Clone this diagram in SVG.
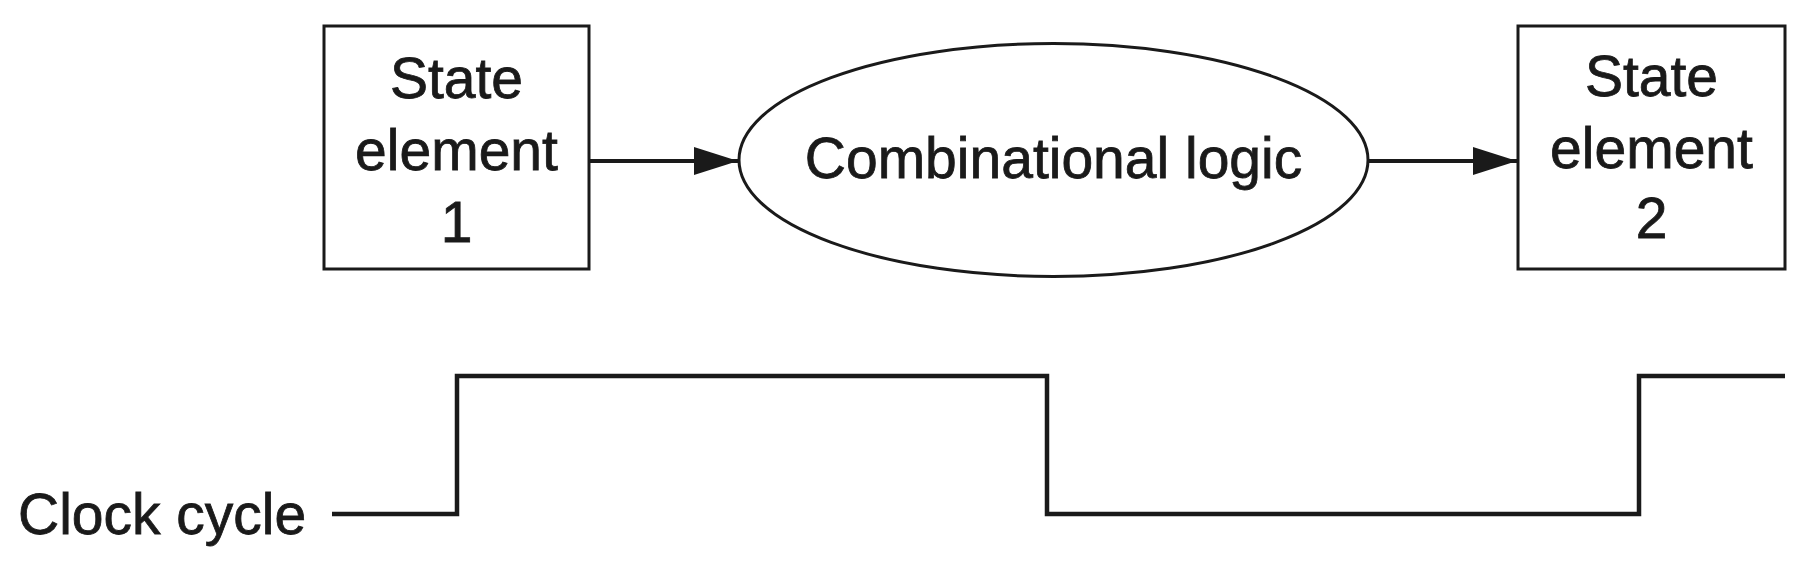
<svg xmlns="http://www.w3.org/2000/svg" width="1806" height="568" viewBox="0 0 1806 568">
  <defs>
    <style>
      .shape { fill: none; stroke: #1a1a1a; stroke-width: 3; }
      .label { font-family: "Liberation Sans", Arial, sans-serif; font-size: 57px; fill: #1a1a1a; stroke: #1a1a1a; stroke-width: 0.8; text-anchor: middle; }
      .conn { fill: none; stroke: #1a1a1a; stroke-width: 4; }
      .clock { fill: none; stroke: #1a1a1a; stroke-width: 4.5; stroke-linejoin: miter; }
    </style>
    <marker id="arrow" viewBox="0 0 44 28" refX="44" refY="14" markerWidth="44" markerHeight="28" markerUnits="userSpaceOnUse" orient="auto">
      <polygon points="0,0 44,14 0,28" fill="#1a1a1a"/>
    </marker>
  </defs>
  <rect width="1806" height="568" fill="#ffffff"/>

  <g id="state-element-1">
    <rect class="shape" x="324" y="26" width="265" height="243"/>
    <text class="label" x="456.5" y="98">State</text>
    <text class="label" x="456.5" y="170">element</text>
    <text class="label" x="456.5" y="242">1</text>
  </g>

  <g id="combinational-logic">
    <ellipse class="shape" cx="1053.5" cy="160" rx="314.5" ry="116.5"/>
    <text class="label" x="1053.5" y="178" font-size="59">Combinational logic</text>
  </g>

  <g id="state-element-2">
    <rect class="shape" x="1518" y="26" width="267" height="243"/>
    <text class="label" x="1651.5" y="96">State</text>
    <text class="label" x="1651.5" y="168">element</text>
    <text class="label" x="1651.5" y="238">2</text>
  </g>

  <g id="connectors">
    <line class="conn" x1="590" y1="161" x2="738" y2="161" marker-end="url(#arrow)"/>
    <line class="conn" x1="1368" y1="161" x2="1517" y2="161" marker-end="url(#arrow)"/>
  </g>

  <g id="clock-cycle">
    <text class="label" x="18" y="534" style="text-anchor: start;">Clock cycle</text>
    <path class="clock" d="M332,514 H457 V376 H1047 V514 H1639 V376 H1785"/>
  </g>
</svg>
